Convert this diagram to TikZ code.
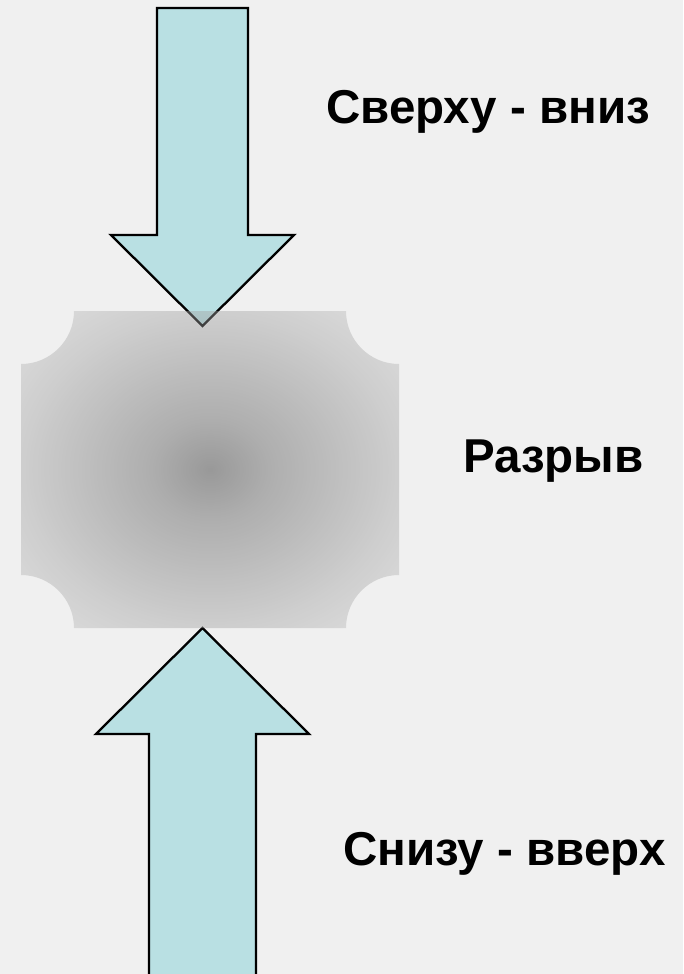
\documentclass[tikz,border=0pt]{standalone}
\usepackage{fontspec}
\setmainfont{Liberation Sans}
\definecolor{bgcol}{RGB}{240,240,240}
\definecolor{arrowfill}{RGB}{185,224,227}
\definecolor{gapA}{RGB}{33,33,33}
\definecolor{gapB}{RGB}{85,85,85}
\definecolor{gapC}{RGB}{161,161,161}
\definecolor{gapD}{RGB}{202,202,202}
\pgfdeclareradialshading{gapshade}{\pgfpoint{0bp}{0bp}}{%
  color(0bp)=(gapA); color(8bp)=(gapB); color(25bp)=(gapC);
  color(36bp)=(gapD); color(50bp)=(gapD)}
\tikzset{
  blockarrow/.style={fill=arrowfill, draw=black, line width=2.3pt, line join=miter},
  gapbox/.style={shading=gapshade, opacity=0.42},
  caption/.style={font=\bfseries\fontsize{47.5}{54}\selectfont, inner sep=0pt, anchor=base west}
}
\begin{document}
\begin{tikzpicture}[x=1pt, y=-1pt]
  % page
  \fill[bgcol] (0,0) rectangle (683,974);
  \useasboundingbox (0,0) rectangle (683,974);

  % downward arrow
  \draw[blockarrow] (157,8) -- (248,8) -- (248,235) -- (294,235) -- (202.5,326)
        -- (111,235) -- (157,235) -- cycle;

  % upward arrow
  \draw[blockarrow] (149,990) -- (149,734) -- (96,734) -- (202.5,628)
        -- (309,734) -- (256,734) -- (256,990);

  % shaded block with concave corners
  \shade[gapbox] (74,311) -- (346,311)
      arc[start angle=180, end angle=90, radius=53] -- (399,575)
      arc[start angle=270, end angle=180, radius=53] -- (74,628)
      arc[start angle=0, end angle=-90, radius=53] -- (21,364)
      arc[start angle=90, end angle=0, radius=53] -- cycle;

  % captions
  \node[caption] (top) at (326,123) {Сверху - вниз};
  \node[caption] (mid) at (463,472) {Разрыв};
  \node[caption] (bot) at (343,865) {Снизу - вверх};
\end{tikzpicture}
\end{document}
